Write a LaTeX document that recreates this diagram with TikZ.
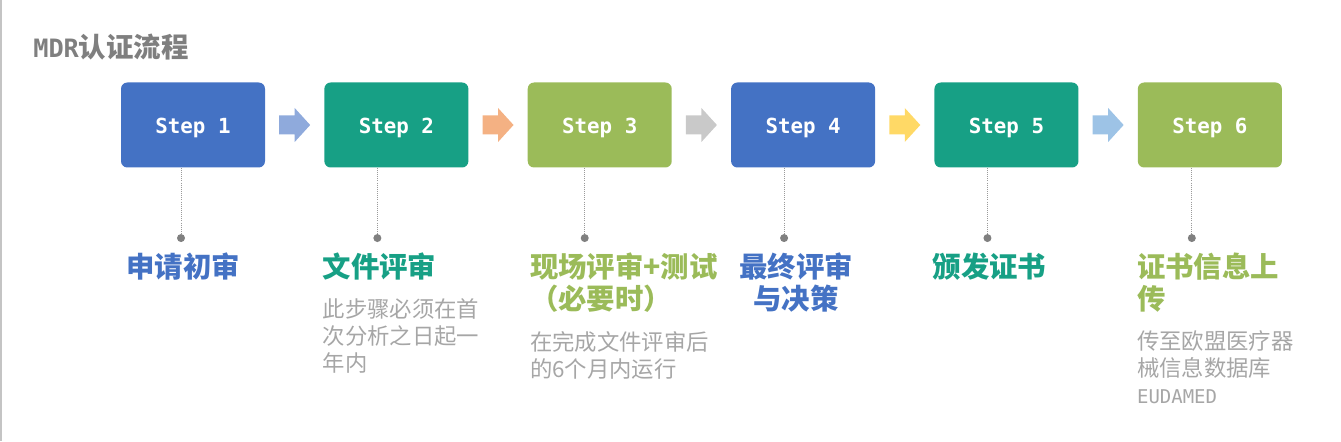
\documentclass[tikz,border=0pt]{standalone}
\usepackage{fontspec}
\newfontfamily\cjk{Noto Sans CJK SC}
\newfontfamily\mono{DejaVu Sans Mono}
\usetikzlibrary{positioning, calc}
\definecolor{stepblue}{HTML}{4472C4}
\definecolor{stepteal}{HTML}{17A085}
\definecolor{stepgreen}{HTML}{9BBB59}
\definecolor{arrowblue}{HTML}{8FAADC}
\definecolor{arroworange}{HTML}{F4B183}
\definecolor{arrowgray}{HTML}{C9C9C9}
\definecolor{arrowyellow}{HTML}{FFD966}
\definecolor{arrowsky}{HTML}{9DC3E6}
\definecolor{notegray}{HTML}{A6A6A6}
\definecolor{headgray}{HTML}{7F7F7F}
\definecolor{dotgray}{HTML}{808080}
\definecolor{rulegray}{HTML}{C4C4C4}

\begin{document}
\begin{tikzpicture}[
  stepbox/.style={rounded corners=4.5pt, minimum width=3.6cm, minimum height=2.125cm,
    inner sep=0pt, text=white, text height=15pt, text depth=3.5pt,
    font=\mono\bfseries\fontsize{14.8}{16}\selectfont},
  dotmark/.style={circle, fill=dotgray, inner sep=0pt, minimum size=0.2cm},
  leader/.style={dotgray!80, densely dotted, line width=0.5pt},
  steptitle/.style={font=\cjk\bfseries\fontsize{20.2}{23}\selectfont, inner sep=0pt, align=left},
  stepnote/.style={font=\cjk\fontsize{15.9}{19.2}\selectfont, text=notegray, inner sep=0pt, align=left},
  blockarrow/.pic={
    \path[pic actions] (-0.3875,-0.2375) -- (0,-0.2375) -- (0,-0.425) -- (0.3875,0)
      -- (0,0.425) -- (0,0.2375) -- (-0.3875,0.2375) -- cycle;
  }
]

% Page size fixed to the reference proportions
\useasboundingbox (0,0) rectangle (33.525,11.025);

% Thin rule down the left edge
\draw[rulegray, line width=1.4pt] (0.02,0) -- (0.02,11.025);

% ── Heading ──
\node[headgray, anchor=west, inner sep=0pt, font=\bfseries\fontsize{19.5}{21}\selectfont]
  (head) at (0.825,9.85) {{\mono\fontsize{18}{21}\selectfont MDR}{\cjk 认证流程}};

% ── Step boxes ──
\node[stepbox, fill=stepblue] (s1) at (4.825,7.9) {Step 1};
\node[stepbox, fill=stepteal, right=1.47cm of s1] (s2) {Step 2};
\node[stepbox, fill=stepgreen, right=1.47cm of s2] (s3) {Step 3};
\node[stepbox, fill=stepblue, right=1.47cm of s3] (s4) {Step 4};
\node[stepbox, fill=stepteal, right=1.47cm of s4] (s5) {Step 5};
\node[stepbox, fill=stepgreen, right=1.47cm of s5] (s6) {Step 6};

% ── Block arrows between the boxes ──
\pic[fill=arrowblue] at ($(s1.east)!0.5!(s2.west)$) {blockarrow};
\pic[fill=arroworange] at ($(s2.east)!0.5!(s3.west)$) {blockarrow};
\pic[fill=arrowgray] at ($(s3.east)!0.5!(s4.west)$) {blockarrow};
\pic[fill=arrowyellow] at ($(s4.east)!0.5!(s5.west)$) {blockarrow};
\pic[fill=arrowsky] at ($(s5.east)!0.5!(s6.west)$) {blockarrow};

% ── Dots under each box, with dotted leaders ──
\node[dotmark, below=1.65cm of s1.south, xshift=-0.3cm] (d1) {};
\node[dotmark, below=1.65cm of s2.south, xshift=-0.475cm] (d2) {};
\node[dotmark, below=1.65cm of s3.south, xshift=-0.375cm] (d3) {};
\node[dotmark, below=1.65cm of s4.south, xshift=-0.475cm] (d4) {};
\node[dotmark, below=1.65cm of s5.south, xshift=-0.475cm] (d5) {};
\node[dotmark, below=1.65cm of s6.south, xshift=-0.45cm] (d6) {};
\draw[leader] (d1 |- s1.south) -- (d1);
\draw[leader] (d2 |- s2.south) -- (d2);
\draw[leader] (d3 |- s3.south) -- (d3);
\draw[leader] (d4 |- s4.south) -- (d4);
\draw[leader] (d5 |- s5.south) -- (d5);
\draw[leader] (d6 |- s6.south) -- (d6);

% ── Step titles ──
\node[steptitle, stepblue, anchor=north west, xshift=-1.375cm, yshift=-0.25cm]
  (t1) at (d1.south) {申请初审};
\node[steptitle, stepteal, anchor=north west, xshift=-1.375cm, yshift=-0.25cm]
  (t2) at (d2.south) {文件评审};
\node[steptitle, stepgreen, anchor=north west, xshift=-1.375cm, yshift=-0.25cm]
  (t3) at (d3.south) {现场评审+测试\\（必要时）};
\node[steptitle, stepblue, align=center, anchor=north, xshift=0.3cm, yshift=-0.25cm]
  (t4) at (d4.south) {最终评审\\与决策};
\node[steptitle, stepteal, anchor=north west, xshift=-1.375cm, yshift=-0.25cm]
  (t5) at (d5.south) {颁发证书};
\node[steptitle, stepgreen, anchor=north west, xshift=-1.375cm, yshift=-0.25cm]
  (t6) at (d6.south) {证书信息上\\传};

% ── Notes under the titles ──
\node[stepnote, anchor=north west, yshift=-0.45cm]
  (n2) at (t2.south west) {此步骤必须在首\\次分析之日起一\\年内};
\node[stepnote, anchor=north west, yshift=-0.45cm]
  (n3) at (t3.south west) {在完成文件评审后\\的6个月内运行};
\node[stepnote, anchor=north west, yshift=-0.45cm]
  (n6) at (t6.south west) {传至欧盟医疗器\\械信息数据库\\{\mono\fontsize{13.5}{19.2}\selectfont EUDAMED}};

\end{tikzpicture}
\end{document}
